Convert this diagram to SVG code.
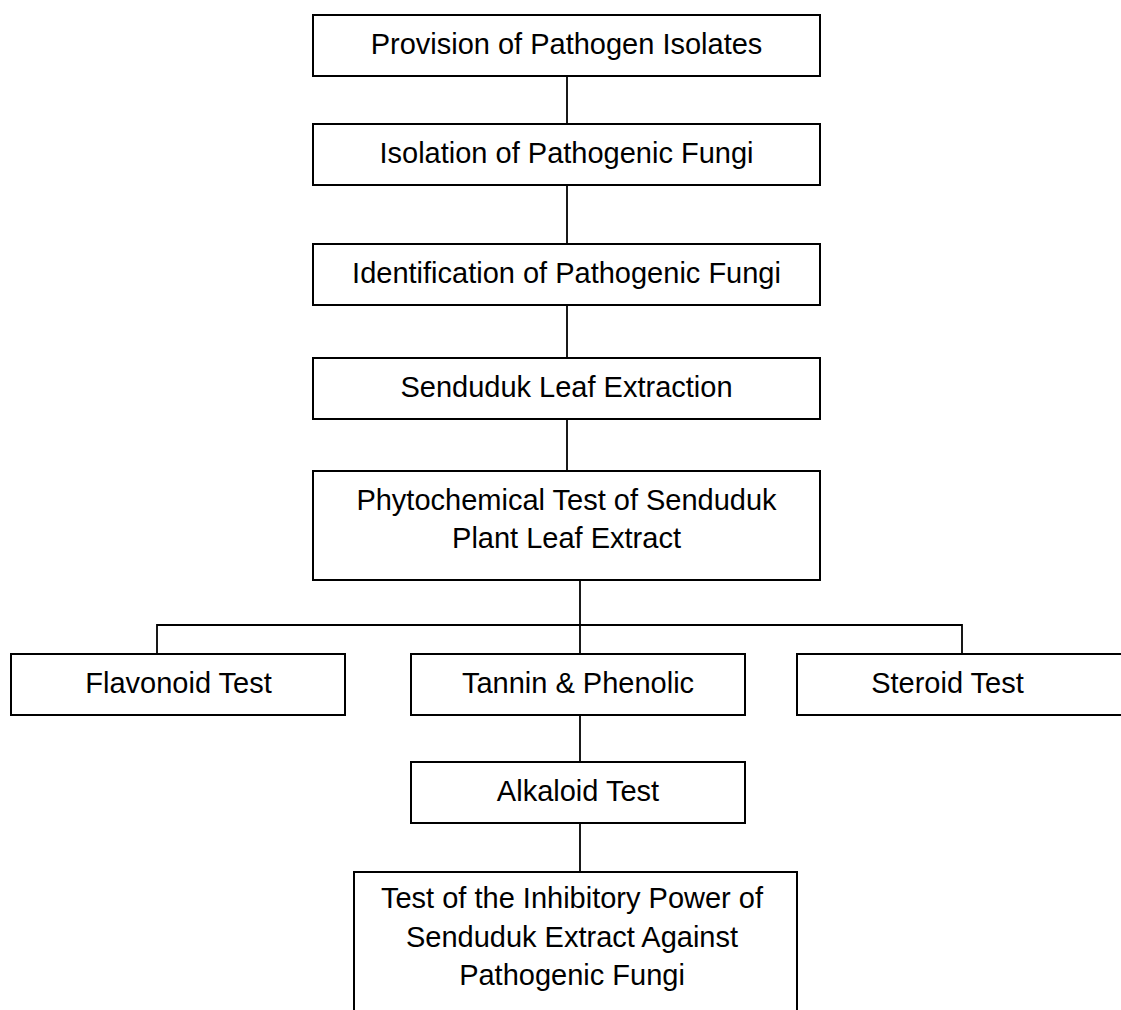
<svg xmlns="http://www.w3.org/2000/svg" width="1121" height="1010" viewBox="0 0 1121 1010">
<style>
.box{fill:#fff;stroke:#000;stroke-width:2}
.lbl{font-family:"Liberation Sans",Arial,sans-serif;font-size:29px;fill:#000;text-anchor:middle}
.con{stroke:#000;stroke-width:1.8;fill:none}
</style>
<rect width="1121" height="1010" fill="#fff"/>
<g id="connectors">
<line class="con" x1="567" y1="76" x2="567" y2="124"/>
<line class="con" x1="567" y1="185" x2="567" y2="244"/>
<line class="con" x1="567" y1="305" x2="567" y2="358"/>
<line class="con" x1="567" y1="419" x2="567" y2="471"/>
<line class="con" x1="580" y1="580" x2="580" y2="625"/>
<polyline class="con" points="157,654 157,625 962,625 962,654"/>
<line class="con" x1="580" y1="625" x2="580" y2="654"/>
<line class="con" x1="580" y1="715" x2="580" y2="762"/>
<line class="con" x1="580" y1="823" x2="580" y2="872"/>
</g>
<g id="n1"><rect class="box" x="313" y="15" width="507" height="61"/><text class="lbl" x="566.5" y="54">Provision of Pathogen Isolates</text></g>
<g id="n2"><rect class="box" x="313" y="124" width="507" height="61"/><text class="lbl" x="566.5" y="163">Isolation of Pathogenic Fungi</text></g>
<g id="n3"><rect class="box" x="313" y="244" width="507" height="61"/><text class="lbl" x="566.5" y="283">Identification of Pathogenic Fungi</text></g>
<g id="n4"><rect class="box" x="313" y="358" width="507" height="61"/><text class="lbl" x="566.5" y="397">Senduduk Leaf Extraction</text></g>
<g id="n5"><rect class="box" x="313" y="471" width="507" height="109"/><text class="lbl" x="566.5" y="510">Phytochemical Test of Senduduk</text><text class="lbl" x="566.5" y="548">Plant Leaf Extract</text></g>
<g id="n6"><rect class="box" x="11" y="654" width="334" height="61"/><text class="lbl" x="178.5" y="693">Flavonoid Test</text></g>
<g id="n7"><rect class="box" x="411" y="654" width="334" height="61"/><text class="lbl" x="578" y="693">Tannin &amp; Phenolic</text></g>
<g id="n8"><rect class="box" x="797" y="654" width="340" height="61"/><text class="lbl" x="947.5" y="693">Steroid Test</text></g>
<g id="n9"><rect class="box" x="411" y="762" width="334" height="61"/><text class="lbl" x="578" y="801">Alkaloid Test</text></g>
<g id="n10"><rect class="box" x="354" y="872" width="443" height="160"/><text class="lbl" x="572" y="908">Test of the Inhibitory Power of</text><text class="lbl" x="572" y="947">Senduduk Extract Against</text><text class="lbl" x="572" y="985">Pathogenic Fungi</text></g>
</svg>
